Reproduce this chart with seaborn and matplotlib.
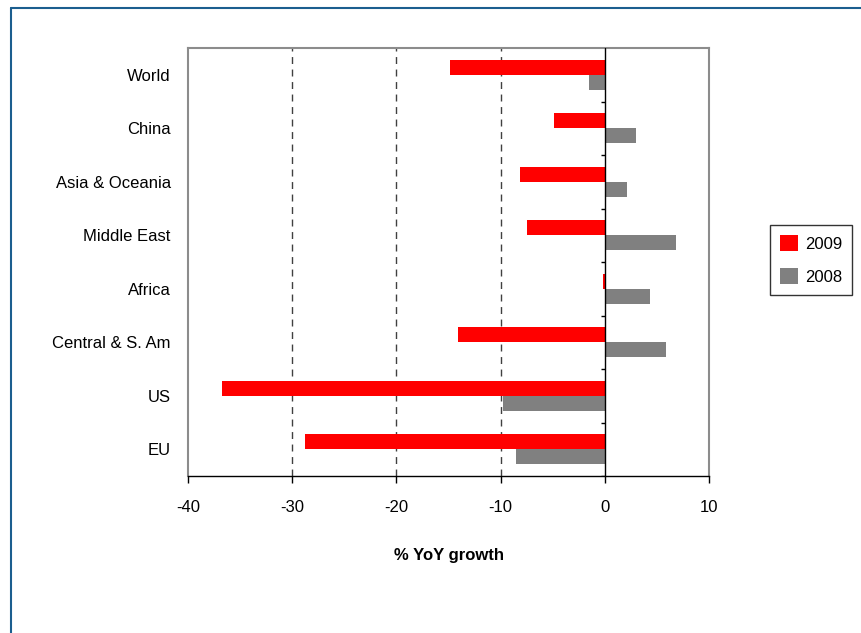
import matplotlib
matplotlib.use("Agg")
import matplotlib.pyplot as plt
import seaborn as sns
import pandas as pd
from matplotlib.patches import Patch
from matplotlib.lines import Line2D

regions = ["World", "China", "Asia & Oceania", "Middle East", "Africa",
           "Central & S. Am", "US", "EU"]
growth_2009 = [-14.9, -4.9, -8.1, -7.5, -0.15, -14.1, -36.7, -28.8]
growth_2008 = [-1.5, 3.0, 2.1, 6.8, 4.3, 5.9, -9.8, -8.5]
series = ["2009", "2008"]
colors = ["#ff0000", "#808080"]
xticks = [-40, -30, -20, -10, 0, 10]

df = pd.DataFrame({
    "region": regions * 2,
    "growth": growth_2009 + growth_2008,
    "year": [series[0]] * len(regions) + [series[1]] * len(regions),
})

sns.set_style("white")
plt.rcParams["font.family"] = ["Liberation Sans", "DejaVu Sans"]
plt.rcParams["text.color"] = "black"
plt.rcParams["axes.labelcolor"] = "black"
plt.rcParams["xtick.color"] = "black"
plt.rcParams["ytick.color"] = "black"

fig = plt.figure(figsize=(8.61, 6.33), dpi=100)
ax = fig.add_axes([188 / 861, 1 - 476 / 633, (709 - 188) / 861, (476 - 48) / 633])

sns.barplot(data=df, x="growth", y="region", hue="year", order=regions,
            hue_order=series, palette=colors, orient="h", width=0.57,
            saturation=1, ax=ax, legend=False, linewidth=0, err_kws={"linewidth": 0})

ax.set_xlim(xticks[0], xticks[-1])
ax.set_ylim(len(regions) - 0.5, -0.5)
ax.set_xticks(xticks)
ax.set_xticklabels([str(t) for t in xticks], fontsize=12)
ax.tick_params(axis="x", direction="out", length=5, width=1, color="black",
               bottom=True, pad=12, labelcolor="black")
ax.tick_params(axis="y", left=False, labelsize=12, pad=9, labelcolor="black")
for lbl in ax.get_yticklabels():
    lbl.set_verticalalignment("center_baseline")
ax.set_ylabel("")
ax.set_xlabel("% YoY growth", fontsize=12, fontweight="bold", labelpad=24,
              color="black")

for t in xticks[1:4]:
    ax.axvline(t, color="#404040", linestyle=(0, (5, 4)), linewidth=1, zorder=0)

for name in ["left", "top", "right"]:
    ax.spines[name].set_visible(True)
    ax.spines[name].set_color("#8c8c8c")
    ax.spines[name].set_linewidth(1.5)
ax.spines["bottom"].set_color("black")
ax.spines["bottom"].set_linewidth(1)

ax.axvline(0, color="black", linewidth=1, zorder=3)
for i in range(len(regions)):
    b = i + 0.5
    ax.plot([-0.35, 0], [b, b], color="black",
            linewidth=1, zorder=3, solid_capstyle="butt")

handles = [Patch(facecolor=c, edgecolor="none") for c in colors]
leg = fig.legend(handles, series, loc="upper left",
                 bbox_to_anchor=(770 / 861, 1 - 225 / 633),
                 frameon=True, fancybox=False, fontsize=12,
                 handlelength=1.1, handleheight=1.1, handletextpad=0.4,
                 labelspacing=1.0, borderpad=0.6, borderaxespad=0)
leg.get_frame().set_edgecolor("black")
leg.get_frame().set_linewidth(1)

border = "#1b5e8f"
fig.add_artist(Line2D([11 / 861, 11 / 861], [0, 1 - 8 / 633], color=border,
                      linewidth=1.5, transform=fig.transFigure))
fig.add_artist(Line2D([11 / 861, 1], [1 - 8 / 633, 1 - 8 / 633], color=border,
                      linewidth=1.5, transform=fig.transFigure))

fig.savefig("out.png", dpi=100, facecolor="white")
